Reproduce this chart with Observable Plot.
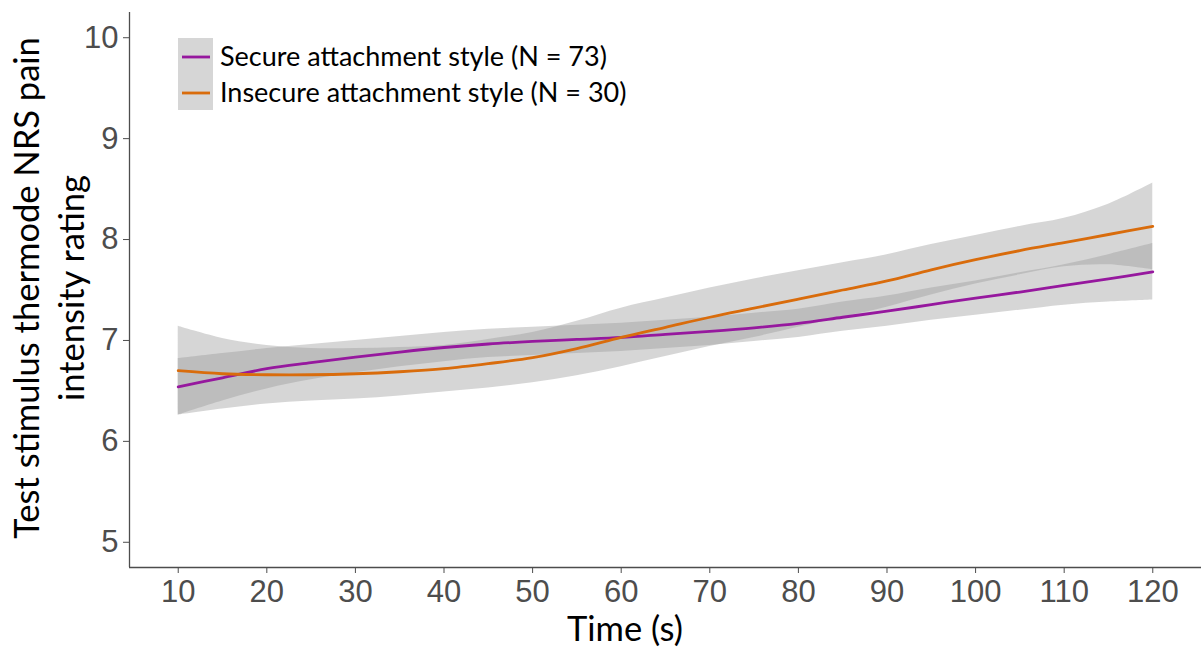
<!DOCTYPE html>
<html>
<head>
<meta charset="utf-8">
<script src="https://cdn.jsdelivr.net/npm/d3@7"></script>
<script src="https://cdn.jsdelivr.net/npm/@observablehq/plot@0.6"></script>
<style>
  html, body { margin: 0; padding: 0; background: #fff; }
  #chart { width: 1201px; height: 653px; }
</style>
</head>
<body>
<div id="chart"></div>
<script>
// Time points (s) at which the smoothed curves are sampled
const time = [10, 15, 20, 25, 30, 35, 40, 45, 50, 55, 60, 65, 70, 75, 80, 85, 90, 95, 100, 105, 110, 115, 120];

// Secure attachment style: smoothed mean and 95% CI
const secureMean = [6.54, 6.63, 6.72, 6.78, 6.835, 6.885, 6.93, 6.965, 6.99, 7.01, 7.03, 7.06, 7.09, 7.125, 7.17, 7.23, 7.29, 7.355, 7.42, 7.48, 7.545, 7.61, 7.68];
const secureLow  = [6.26, 6.40, 6.52, 6.61, 6.68, 6.74, 6.79, 6.83, 6.85, 6.87, 6.89, 6.92, 6.95, 6.99, 7.03, 7.09, 7.14, 7.20, 7.25, 7.30, 7.35, 7.38, 7.40];
const secureHigh = [6.82, 6.87, 6.92, 6.96, 7.00, 7.04, 7.08, 7.11, 7.13, 7.15, 7.17, 7.20, 7.23, 7.27, 7.31, 7.38, 7.44, 7.52, 7.59, 7.67, 7.75, 7.85, 7.96];

// Insecure attachment style: smoothed mean and 95% CI
const insecureMean = [6.70, 6.67, 6.66, 6.66, 6.67, 6.69, 6.72, 6.77, 6.83, 6.92, 7.03, 7.13, 7.23, 7.32, 7.41, 7.50, 7.59, 7.70, 7.80, 7.89, 7.97, 8.05, 8.13];
const insecureLow  = [6.26, 6.32, 6.37, 6.40, 6.42, 6.45, 6.49, 6.53, 6.58, 6.65, 6.74, 6.84, 6.94, 7.03, 7.13, 7.23, 7.33, 7.45, 7.56, 7.65, 7.73, 7.75, 7.70];
const insecureHigh = [7.14, 7.02, 6.95, 6.92, 6.92, 6.93, 6.95, 7.01, 7.08, 7.19, 7.32, 7.42, 7.52, 7.61, 7.69, 7.77, 7.85, 7.95, 8.04, 8.13, 8.21, 8.35, 8.56];

const groups = ["Secure attachment style (N = 73)", "Insecure attachment style (N = 30)"];
const groupColors = ["#96189E", "#D96C0C"];

const xTicks = [10, 20, 30, 40, 50, 60, 70, 80, 90, 100, 110, 120];
const yTicks = [5, 6, 7, 8, 9, 10];

const rows = [];
time.forEach((t, i) => rows.push({time: t, group: groups[0], mean: secureMean[i], lo: secureLow[i], hi: secureHigh[i]}));
time.forEach((t, i) => rows.push({time: t, group: groups[1], mean: insecureMean[i], lo: insecureLow[i], hi: insecureHigh[i]}));

const xDomain = [4.5, 125.5];
const yDomain = [4.75, 10.25];
const axisGrey = "#4D4D4D";
const tickFont = "'Liberation Sans', Arial, sans-serif";
const titleFont = "Lato, 'Open Sans', sans-serif";

const plot = Plot.plot({
  width: 1201,
  height: 653,
  marginLeft: 129,
  marginRight: 0,
  marginTop: 12,
  marginBottom: 86,
  style: {background: "#fff", overflow: "visible"},
  x: {domain: xDomain},
  y: {domain: yDomain},
  color: {domain: groups, range: groupColors},
  marks: [
    Plot.areaY(rows, {x: "time", y1: "lo", y2: "hi", z: "group", fill: "#999999", fillOpacity: 0.4, curve: "catmull-rom"}),
    Plot.line(rows, {x: "time", y: "mean", z: "group", stroke: "group", strokeWidth: 2.8, curve: "catmull-rom"}),
    Plot.ruleX([xDomain[0]], {stroke: axisGrey, strokeWidth: 1.3}),
    Plot.ruleY([yDomain[0]], {stroke: axisGrey, strokeWidth: 1.3}),
    Plot.axisY({ticks: yTicks, tickFormat: d3.format("d"), tickSize: 6, tickPadding: 5, color: axisGrey, fontSize: 31, fontFamily: tickFont, label: null}),
    Plot.axisX({ticks: xTicks, tickFormat: d3.format("d"), tickSize: 6, tickPadding: 6, color: axisGrey, fontSize: 31, fontFamily: tickFont, label: null})
  ]
});

const svg = d3.select(plot);

// Axis titles
svg.append("text")
  .attr("x", 625).attr("y", 641)
  .attr("text-anchor", "middle")
  .attr("font-family", titleFont).attr("font-size", 34.5).attr("fill", "#000")
  .text("Time (s)");

const yTitle = svg.append("g").attr("font-family", titleFont).attr("font-size", 34.5).attr("fill", "#000").attr("text-anchor", "middle");
yTitle.append("text").attr("transform", "translate(39,288) rotate(-90)").text("Test stimulus thermode NRS pain");
yTitle.append("text").attr("transform", "translate(84,288) rotate(-90)").text("intensity rating");

// Legend
const legend = svg.append("g").attr("font-family", titleFont).attr("font-size", 27).attr("fill", "#000").attr("text-anchor", "start");
groups.forEach((g, i) => {
  const top = 38 + i * 36;
  legend.append("rect").attr("x", 178).attr("y", top).attr("width", 35).attr("height", 36).attr("fill", "#D6D6D6");
  legend.append("line").attr("x1", 182).attr("x2", 210).attr("y1", top + 19).attr("y2", top + 19)
    .attr("stroke", groupColors[i]).attr("stroke-width", 2.8);
  legend.append("text").attr("x", 220).attr("y", top + 28).text(g);
});

document.getElementById("chart").appendChild(plot);
</script>
</body>
</html>
